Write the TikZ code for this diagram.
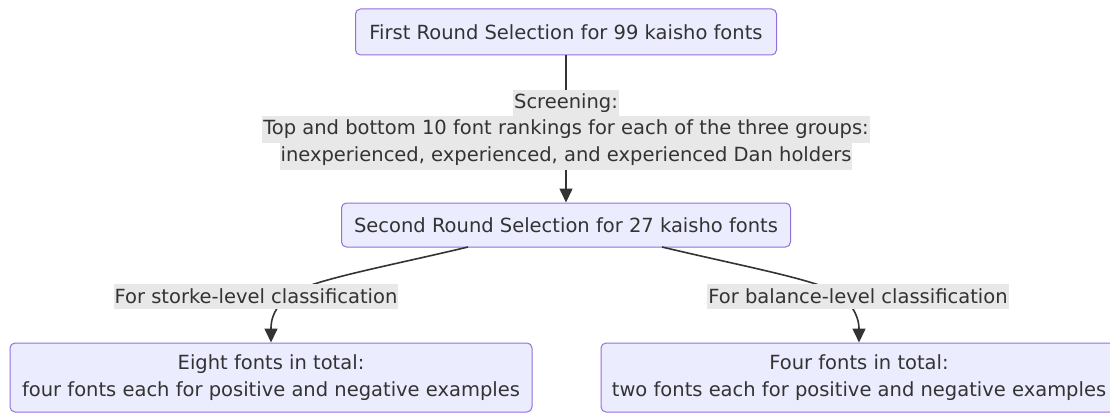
\documentclass[tikz,border=0pt]{standalone}
\usepackage{fontspec}
\setmainfont{DejaVu Sans}
\usetikzlibrary{arrows.meta}
\definecolor{boxfill}{HTML}{ECECFF}
\definecolor{boxline}{HTML}{9370DB}
\definecolor{ink}{HTML}{333333}
\definecolor{lblbg}{HTML}{E8E8E8}
\tikzset{
  x=1pt, y=-1pt,
  flowbox/.style={draw=boxline, fill=boxfill, line width=1pt, rounded corners=5pt,
    text=ink, align=center, inner sep=0pt, font=\fontsize{19.5}{27}\selectfont},
  edgelbl/.style={fill=lblbg, text=ink, inner xsep=1pt, inner ysep=0pt,
    minimum height=25pt, font=\fontsize{19.5}{27}\selectfont},
  flow/.style={draw=ink, line width=1.6pt, -{Triangle[length=14pt,width=13pt]}},
}
\begin{document}
\begin{tikzpicture}
\clip (0,0) rectangle (1110,412);
\fill[white] (0,0) rectangle (1110,412);

% boxes
\node[flowbox, minimum width=421pt, minimum height=46pt] (first) at (566,32)
  {First Round Selection for 99 kaisho fonts};
\node[flowbox, minimum width=449pt, minimum height=44pt] (second) at (566,225)
  {Second Round Selection for 27 kaisho fonts};
\node[flowbox, minimum width=522pt, minimum height=69pt] (eight) at (271,377.5)
  {Eight fonts in total:\\four fonts each for positive and negative examples};
\node[flowbox, minimum width=516pt, minimum height=69pt] (four) at (859,377.5)
  {Four fonts in total:\\two fonts each for positive and negative examples};

% connectors
\draw[flow] (first.south) -- (second.north);
\coordinate (lstart) at (468,247);
\coordinate (rstart) at (662,247);
\draw[flow] (lstart) .. controls (380,268) and (300,282) .. (285,298)
  .. controls (272,312) and (271,322) .. (eight.north);
\draw[flow] (rstart) .. controls (750,268) and (830,282) .. (845,298)
  .. controls (857,312) and (859,322) .. (four.north);

% edge labels (one shaded strip per line)
\node[edgelbl, minimum height=27pt] (scr1) at (566,103) {Screening:};
\node[edgelbl, minimum height=27pt] (scr2) at (566,129.5) {Top and bottom 10 font rankings for each of the three groups:};
\node[edgelbl, minimum height=27pt] (scr3) at (566,156) {inexperienced, experienced, and experienced Dan holders};
\node[edgelbl] (lblL) at (256,296) {For storke-level classification};
\node[edgelbl] (lblR) at (858,296) {For balance-level classification};
\end{tikzpicture}
\end{document}
